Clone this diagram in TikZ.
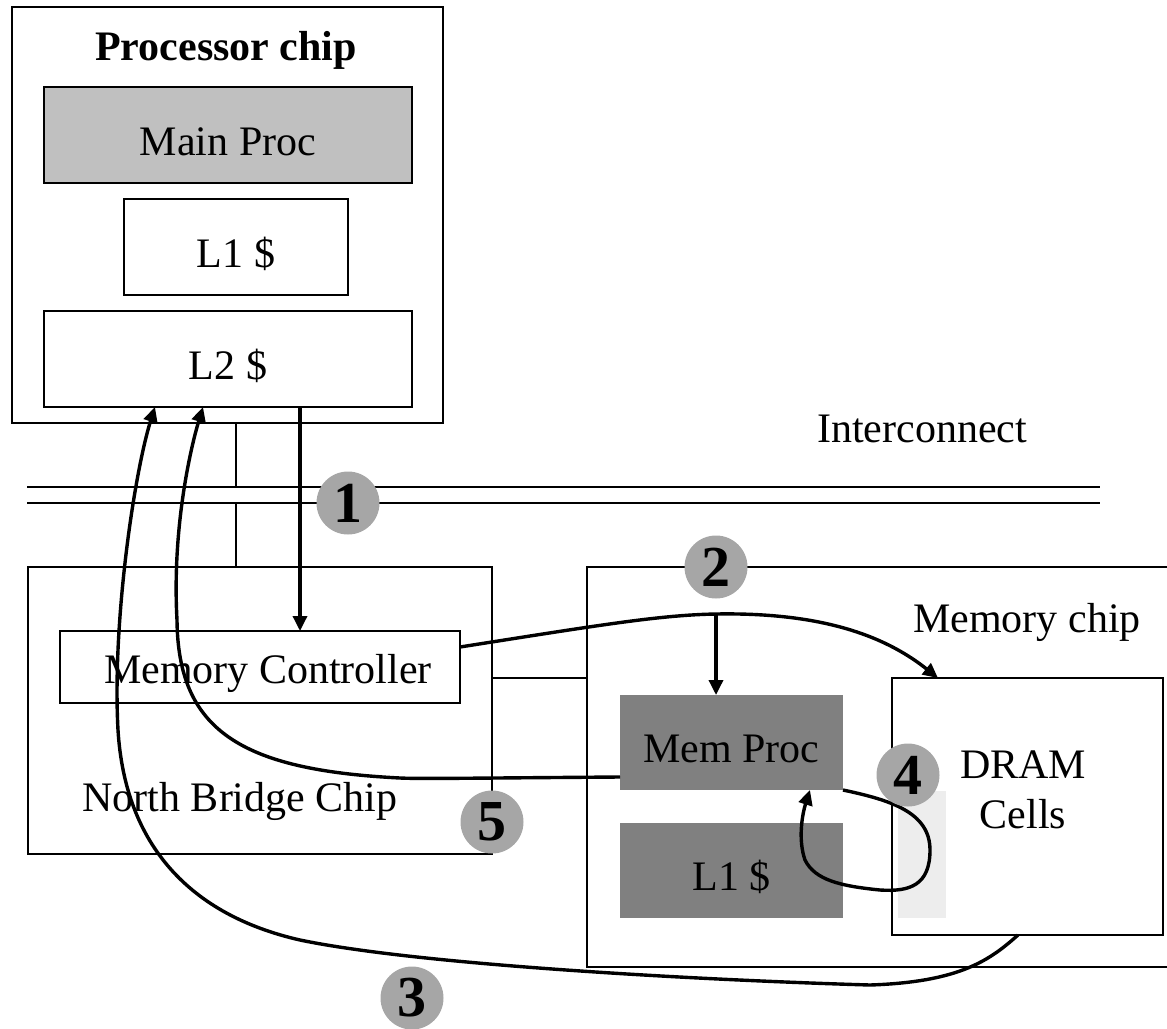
\documentclass[tikz,border=0pt]{standalone}
\usepackage{fontspec}
\setmainfont{Liberation Serif}
\usetikzlibrary{arrows.meta}

\begin{document}
\begin{tikzpicture}[x=1pt,y=-1pt,
  font=\fontsize{42}{50}\selectfont,
  box/.style={draw,line width=1.5pt,inner sep=0pt,outer sep=0pt,text height=40pt,text depth=0pt},
  unit/.style={fill=memgray,inner sep=0pt,outer sep=0pt,minimum width=223pt,minimum height=95pt,
    text height=39pt,text depth=0pt},
  flow/.style={line width=3.4pt,-{Triangle[length=15pt,width=14pt]}},
  wire/.style={line width=1.5pt},
  numdot/.style={circle,fill=numgray,inner sep=0pt,minimum size=63pt,
    font=\fontsize{58}{60}\selectfont\bfseries}]
\definecolor{numgray}{HTML}{A6A6A6}
\definecolor{procgray}{HTML}{C0C0C0}
\definecolor{memgray}{HTML}{808080}
\definecolor{cellgray}{HTML}{EDEDED}
\useasboundingbox (0,0) rectangle (1167,1028);
\node[box,minimum width=431pt,minimum height=416pt] (procchip) at (227.5,215) {};
\node[anchor=base,font=\fontsize{42}{50}\selectfont\bfseries] (proctitle) at (226,60) {Processor chip};
\node[box,fill=procgray,minimum width=368pt,minimum height=96pt] (mainproc) at (228,135) {Main Proc};
\node[box,minimum width=224pt,minimum height=96pt] (l1) at (236,247) {L1 \$};
\node[box,minimum width=368pt,minimum height=96pt] (l2) at (228,359) {L2 \$};
\node[anchor=base] (ictext) at (922,442) {Interconnect};
\coordinate (busw) at (27,487);
\coordinate (buse) at (1100,487);
\coordinate (busw2) at (27,503);
\coordinate (buse2) at (1100,503);
\draw[wire] (busw) -- (buse);
\draw[wire] (busw2) -- (buse2);
\node[box,minimum width=464pt,minimum height=287pt] (nb) at (260,710.5) {};
\node[box,minimum width=400pt,minimum height=72pt] (memctrl) at (260,667) {};
\node[anchor=base] (mctext) at (268,683) {Memory Controller};
\node[anchor=base] (nbtext) at (240,811) {North Bridge Chip};
\node[box,minimum width=598pt,minimum height=400pt] (memchip) at (886,767) {};
\node[anchor=base] (memtext) at (1027,632) {Memory chip};
\node[unit] (memproc) at (731.5,742.5) {Mem Proc};
\node[unit] (meml1) at (731.5,870.5) {L1 \$};
\node[box,minimum width=271pt,minimum height=257pt] (dram) at (1027.5,806.5) {};
\fill[cellgray] (898,791) rectangle (946,918);
\node[align=center] (dramtext) at (1023,790) {DRAM\\Cells};
\coordinate (linkx) at (236,0);
\coordinate (linky) at (0,678);
\draw[wire] (procchip.south -| linkx) -- (linkx |- busw);
\draw[wire] (linkx |- busw2) -- (nb.north -| linkx);
\draw[wire] (nb.east |- linky) -- (memchip.west |- linky);
\draw[flow] ([xshift=72pt]l2.south) -- ([xshift=40pt]memctrl.north);
\coordinate (split) at (716,614);
\draw[flow] ([yshift=20pt]memctrl.east) .. controls (600,625) and (660,615) .. (split)
  .. controls (830,612) and (890,640) .. ([xshift=-89.5pt]dram.north);
\draw[flow] (split) -- ([xshift=-15.5pt]memproc.north);
\draw[flow] ([xshift=-9.5pt]dram.south) .. controls (990,960) and (960,982) .. (870,985)
  .. controls (700,980) and (420,965) .. (300,940)
  .. controls (190,915) and (125,845) .. (118,730)
  .. controls (112,620) and (135,470) .. ([xshift=-73pt]l2.south);
\draw[flow] ([yshift=-34.5pt]memproc.west) .. controls (480,778) and (420,779) .. (400,778)
  .. controls (240,770) and (178,730) .. (177,620)
  .. controls (172,530) and (190,450) .. ([xshift=-25pt]l2.south);
\draw[flow] (memproc.south east) .. controls (890,800) and (930,812) .. (930,850)
  .. controls (930,885) and (910,892) .. (880,890)
  .. controls (840,886) and (815,880) .. (805,860)
  .. controls (798,840) and (802,815) .. ([xshift=78.5pt]memproc.south);
\node[numdot] (n1) at (348,503) {1};
\node[numdot] (n2) at (716,567) {2};
\node[numdot] (n3) at (412,998) {3};
\node[numdot] (n4) at (908,775) {4};
\node[numdot] (n5) at (492,822) {5};
\end{tikzpicture}
\end{document}
